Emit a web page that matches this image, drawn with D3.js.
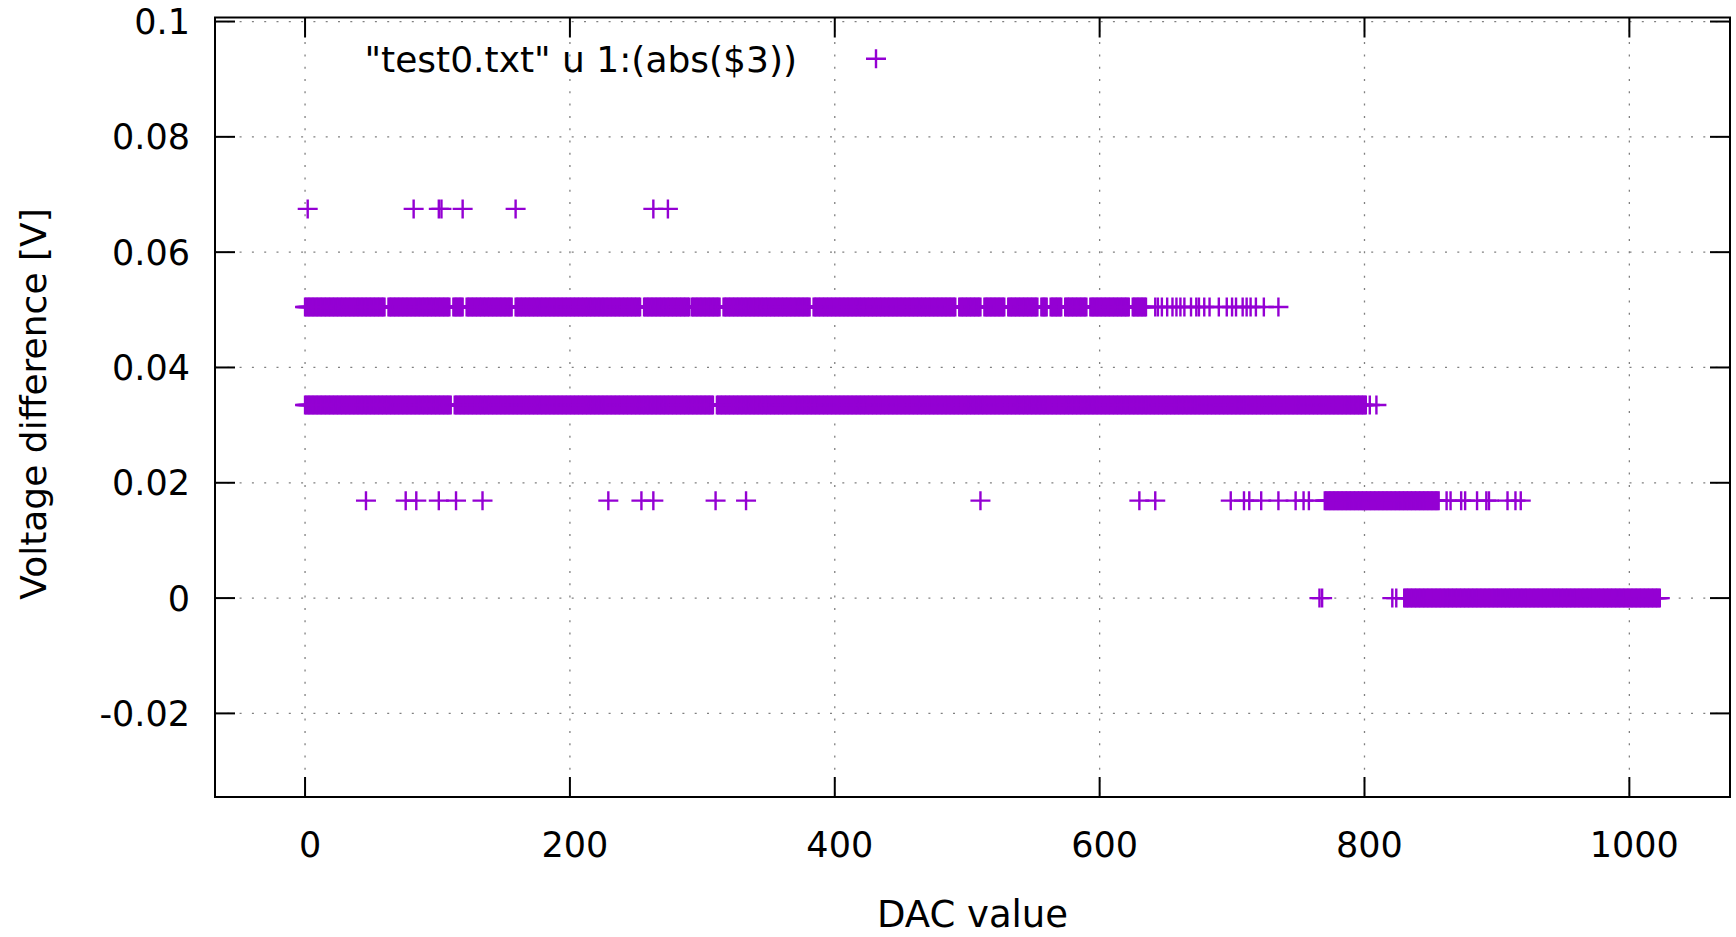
<!DOCTYPE html>
<html>
<head>
<meta charset="utf-8">
<script src="https://cdn.jsdelivr.net/npm/d3@7"></script>
<style>
  body { margin: 0; background: #fff; }
  svg text { font-family: "DejaVu Sans", sans-serif; fill: #000; }
</style>
</head>
<body>
<div id="chart"></div>
<script>

// voltage levels the difference falls on (quantised)
var voltLevels = [0, 0.0169, 0.0335, 0.0505, 0.0675];

// DAC values at each level. runs = unbroken stretches [from, to], pts = single readings
var runs0 = [[830, 1023]];
var pts0 = [766, 768, 821, 824];

var runs1 = [[770, 856]];
var pts1 = [46, 76, 84, 101, 114, 134, 229, 254, 263, 310, 333, 510, 630, 642,
  699, 709, 713, 722, 735, 748, 754, 758,
  862, 865, 873, 876, 885, 892, 894, 908, 914, 918];

var runs2 = [[0, 110], [113, 308], [311, 801]];
var pts2 = [804, 809];

var runs3 = [[0, 60], [63, 109], [112, 119], [122, 156], [159, 253], [256, 290], [292, 313],
  [316, 381], [384, 491], [494, 510], [513, 528], [531, 553], [556, 560], [563, 571],
  [574, 590], [593, 622], [625, 635]];
var pts3 = [642, 644, 647, 651, 655, 658, 661, 664, 669, 673, 675, 679, 683, 690,
  696, 700, 703, 708, 711, 714, 718, 724, 735];

var runs4 = [];
var pts4 = [2, 82, 101, 103, 119, 159, 263, 274];

var xTicks = [0, 200, 400, 600, 800, 1000];
var yTicks = [-0.02, 0, 0.02, 0.04, 0.06, 0.08, 0.1];
var yTickLabels = ["-0.02", "0", "0.02", "0.04", "0.06", "0.08", "0.1"];

var legendText = '"test0.txt" u 1:(abs($3))';

var width = 1736, height = 937;
// plot frame (window.top is taken, so prefix these)
var plotL = 215, plotR = 1730, plotT = 17.5, plotB = 797;
var purple = "#9400d3";

var x = d3.scaleLinear().domain([-68, 1076]).range([plotL, plotR]);
var y = d3.scaleLinear().domain([-0.0345, 0.1007]).range([plotB, plotT]);

// flatten runs + singles into one point list
var allRuns = [runs0, runs1, runs2, runs3, runs4];
var allPts = [pts0, pts1, pts2, pts3, pts4];
var points = [];
voltLevels.forEach(function(v, i) {
  allRuns[i].forEach(function(r) {
    d3.range(r[0], r[1] + 1).forEach(function(d) { points.push({dac: d, v: v}); });
  });
  allPts[i].forEach(function(d) { points.push({dac: d, v: v}); });
});

var svg = d3.select("#chart").append("svg")
  .attr("width", width)
  .attr("height", height);

// grid (dotted)
var grid = svg.append("g")
  .attr("stroke", "#808080")
  .attr("stroke-width", 1.3)
  .attr("stroke-dasharray", "2,10.3");

grid.selectAll("line.gx").data(xTicks).enter().append("line")
  .attr("x1", function(d) { return x(d); })
  .attr("x2", function(d) { return x(d); })
  .attr("y1", plotT)
  .attr("y2", plotB);

grid.selectAll("line.gy").data(yTicks).enter().append("line")
  .attr("x1", plotL)
  .attr("x2", plotR)
  .attr("y1", function(d) { return y(d); })
  .attr("y2", function(d) { return y(d); });

// points as gnuplot style "+"
var plus = "M-10,0H10M0,-9.5V9.5";
svg.append("g")
  .selectAll("path")
  .data(points)
  .enter().append("path")
  .attr("transform", function(d) { return "translate(" + x(d.dac) + "," + y(d.v) + ")"; })
  .attr("d", plus)
  .attr("fill", "none")
  .attr("stroke", purple)
  .attr("stroke-width", 2.4);

// frame
svg.append("rect")
  .attr("x", plotL)
  .attr("y", plotT)
  .attr("width", plotR - plotL)
  .attr("height", plotB - plotT)
  .attr("fill", "none")
  .attr("stroke", "#000")
  .attr("stroke-width", 2);

// ticks, inward, mirrored on both sides
var tickLen = 20;
var ticks = svg.append("g").attr("stroke", "#000").attr("stroke-width", 2);
xTicks.forEach(function(d) {
  ticks.append("line").attr("x1", x(d)).attr("x2", x(d)).attr("y1", plotB).attr("y2", plotB - tickLen);
  ticks.append("line").attr("x1", x(d)).attr("x2", x(d)).attr("y1", plotT).attr("y2", plotT + tickLen);
});
yTicks.forEach(function(d) {
  ticks.append("line").attr("x1", plotL).attr("x2", plotL + tickLen).attr("y1", y(d)).attr("y2", y(d));
  ticks.append("line").attr("x1", plotR).attr("x2", plotR - tickLen).attr("y1", y(d)).attr("y2", y(d));
});

// tick labels
svg.selectAll("text.xt").data(xTicks).enter().append("text")
  .attr("class", "xt")
  .attr("x", function(d) { return x(d) + 5; })
  .attr("y", 844)
  .attr("dy", "0.36em")
  .attr("text-anchor", "middle")
  .style("font-size", "35px")
  .text(function(d) { return d; });

svg.selectAll("text.yt").data(yTicks).enter().append("text")
  .attr("class", "yt")
  .attr("x", 190)
  .attr("y", function(d) { return y(d); })
  .attr("dy", "0.36em")
  .attr("text-anchor", "end")
  .style("font-size", "35px")
  .text(function(d, i) { return yTickLabels[i]; });

// axis titles
svg.append("text")
  .attr("x", (plotL + plotR) / 2)
  .attr("y", 914)
  .attr("dy", "0.36em")
  .attr("text-anchor", "middle")
  .style("font-size", "37px")
  .text("DAC value");

svg.append("text")
  .attr("transform", "translate(33,404) rotate(-90)")
  .attr("dy", "0.36em")
  .attr("text-anchor", "middle")
  .style("font-size", "36px")
  .text("Voltage difference [V]");

// key
svg.append("text")
  .attr("x", 797)
  .attr("y", 58.7)
  .attr("dy", "0.36em")
  .attr("text-anchor", "end")
  .style("font-size", "36px")
  .text(legendText);

svg.append("path")
  .attr("transform", "translate(876,58.7)")
  .attr("d", plus)
  .attr("fill", "none")
  .attr("stroke", purple)
  .attr("stroke-width", 2.4);

</script>
</body>
</html>
